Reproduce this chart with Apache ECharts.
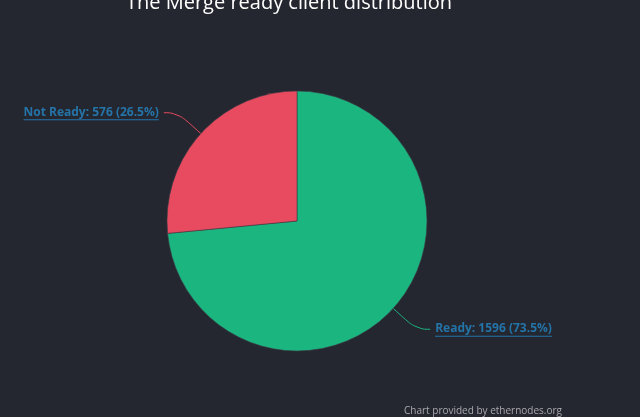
<!DOCTYPE html>
<html><head><meta charset="utf-8">
<script src="https://cdn.jsdelivr.net/npm/echarts@6/dist/echarts.min.js"></script>
<style>html,body{margin:0;padding:0;background:#252730;}#c{width:640px;height:417px;}</style>
</head><body><div id="c"></div>
<script>
const categories = ['Ready', 'Not Ready'];
const values = [1596, 576];
const colors = ['#1bb580', '#e84a5f'];
const titleText = 'The Merge ready client distribution';
const footerText = 'Chart provided by ethernodes.org';

const total = values.reduce((a, b) => a + b, 0);
const chart = echarts.init(document.getElementById('c'));
chart.setOption({
  backgroundColor: '#252730',
  animation: false,
  title: {
    text: titleText,
    left: 121,
    top: -12,
    textStyle: { color: '#ffffff', fontSize: 20, fontWeight: 'normal', fontFamily: 'Open Sans' }
  },
  graphic: [{
    type: 'text', right: 78, bottom: 1,
    style: { text: footerText, fill: '#a8a8ac', fontSize: 10, fontFamily: 'Open Sans' }
  }],
  series: [{
    type: 'pie',
    center: [297, 221],
    radius: 130,
    startAngle: 90,
    clockwise: true,
    itemStyle: { borderColor: '#3a3c44', borderWidth: 0.6 },
    label: {
      formatter: p => '{a|' + p.name + ': ' + p.value + ' (' + (p.value / total * 100).toFixed(1) + '%)}\n{u|}',
      rich: {
        a: { color: '#2574a8', fontSize: 12, fontWeight: 'bold', fontFamily: 'Open Sans', lineHeight: 14 },
        u: { width: '100%', height: 1, lineHeight: 1, backgroundColor: '#2574a8' }
      }
    },
    labelLine: { length: 31, length2: 14, smooth: 0.5, lineStyle: { width: 1 } },
    data: categories.map((c, i) => ({ name: c, value: values[i], itemStyle: { color: colors[i] } }))
  }]
});
</script></body></html>
